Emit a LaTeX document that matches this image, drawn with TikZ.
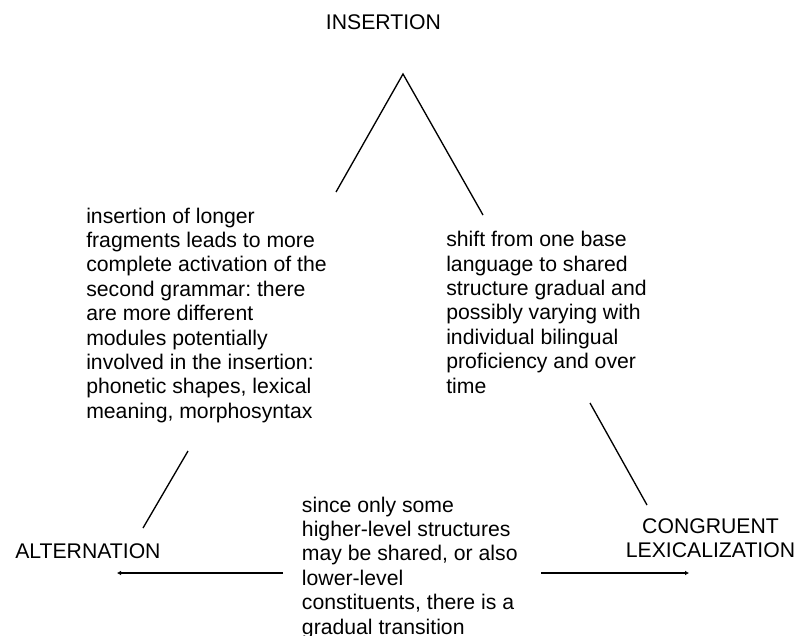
\documentclass[tikz,border=0pt]{standalone}
\usepackage{fontspec}
\setmainfont{Liberation Sans}
\usetikzlibrary{arrows.meta}
\frenchspacing

\begin{document}
\begin{tikzpicture}[x=0.75pt, y=-0.75pt, >={Latex[length=3pt,width=3.5pt]},
  corner/.style={inner sep=0pt, font=\fontsize{15.9}{18.3}\selectfont},
  note/.style={inner sep=0pt, align=left, anchor=north west, font=\fontsize{15.9}{18.3}\selectfont},
  side/.style={line width=1pt}]
\useasboundingbox (0,0) rectangle (798,635);

%Corners
\node (ins) at (383.5,30) [corner, anchor=base] {INSERTION};
\node (alt) at (15,558) [corner, anchor=base west] {ALTERNATION};
\node (cong) at (710.5,518) [corner, anchor=north, align=center] {CONGRUENT\\LEXICALIZATION};

%Notes
\node (leftnote) at (86,207.5) [note] {insertion of longer\\fragments leads to more\\complete activation of the\\second grammar: there\\are more different\\modules potentially\\involved in the insertion:\\phonetic shapes, lexical\\meaning, morphosyntax};
\node (rightnote) at (446,231) [note] {shift from one base\\language to shared\\structure gradual and\\possibly varying with\\individual bilingual\\proficiency and over\\time};
\node (botnote) at (301.7,496.5) [note] {since only some\\higher-level structures\\may be shared, or also\\lower-level\\constituents, there is a\\gradual transition};

%Sides of the triangle
\coordinate (apex) at (403,74);
\coordinate (lefttop) at (336,192);
\coordinate (righttop) at (483,215);
\coordinate (leftlowa) at (188,451);
\coordinate (leftlowb) at (143,528);
\coordinate (rightlowa) at (590,403);
\coordinate (rightlowb) at (647,505);
\coordinate (arrLa) at (283,573);
\coordinate (arrLb) at (117,573);
\coordinate (arrRa) at (541,573);
\coordinate (arrRb) at (689,573);

\draw [side] (lefttop) -- (apex) -- (righttop);
\draw [side] (leftlowa) -- (leftlowb);
\draw [side] (rightlowa) -- (rightlowb);
\draw [side, ->] (arrLa) -- (arrLb);
\draw [side, ->] (arrRa) -- (arrRb);

\end{tikzpicture}
\end{document}
